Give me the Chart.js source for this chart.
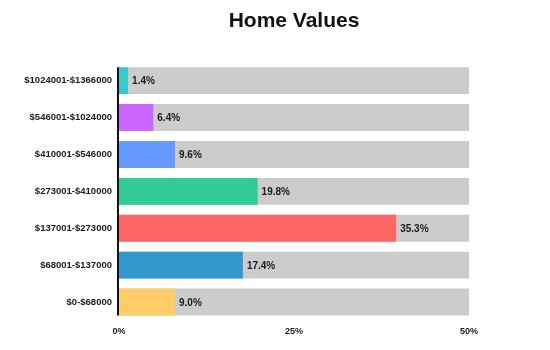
<!DOCTYPE html>
<html>
<head>
<meta charset="utf-8">
<script src="https://cdn.jsdelivr.net/npm/chart.js@4"></script>
<style>
  html, body { margin: 0; padding: 0; background: #fff; }
  #wrap { width: 550px; height: 350px; }
</style>
</head>
<body>
<div id="wrap"><canvas id="myChart"></canvas></div>
<script>
let categories = ["$1024001-$1366000", "$546001-$1024000", "$410001-$546000", "$273001-$410000",
    "$137001-$273000", "$68001-$137000", "$0-$68000"];
// bar lengths as drawn in the picture
let barValues = [1.3, 4.9, 8.0, 19.8, 39.6, 17.7, 8.0];
// the percentages printed next to the bars
let valueLabels = ["1.4%", "6.4%", "9.6%", "19.8%", "35.3%", "17.4%", "9.0%"];
let trackValues = [50, 50, 50, 50, 50, 50, 50];
let xTicks = [0, 25, 50];

let colors = ['#33CCCC', '#CC66FF', '#6699FF', '#33CC99', '#FF6666', '#3399CC', '#FFCC66'];
let font = "'Liberation Sans', Arial, Helvetica, sans-serif";

// prints the percentage just past the end of each coloured bar
const valueLabelPlugin = {
    id: 'valueLabels',
    afterDatasetsDraw(chart) {
        let ctx = chart.ctx;
        let meta = chart.getDatasetMeta(0);
        ctx.save();
        ctx.font = "bold 10px " + font;
        ctx.fillStyle = '#1a1a1a';
        ctx.textBaseline = 'middle';
        ctx.textAlign = 'left';
        meta.data.forEach((bar, i) => {
            ctx.fillText(valueLabels[i], bar.x + 4, bar.y + 1);
        });
        ctx.restore();
    }
};

// black axis line running only along the bars
const axisLinePlugin = {
    id: 'axisLine',
    afterDatasetsDraw(chart) {
        let ctx = chart.ctx;
        let meta = chart.getDatasetMeta(1);
        let first = meta.data[0], last = meta.data[meta.data.length - 1];
        let x = chart.scales.x.getPixelForValue(0);
        ctx.save();
        ctx.strokeStyle = '#111';
        ctx.lineWidth = 2;
        ctx.beginPath();
        ctx.moveTo(x - 1, first.y - first.height / 2);
        ctx.lineTo(x - 1, last.y + last.height / 2);
        ctx.stroke();
        ctx.restore();
    }
};

document.addEventListener('DOMContentLoaded', e => {
    let ctx = document.getElementById('myChart').getContext('2d');
    new Chart(ctx, {
        type: 'bar',
        data: {
            labels: categories,
            datasets: [{
                label: 'Share',
                data: barValues,
                backgroundColor: colors,
                order: 0
            }, {
                label: 'Track',
                data: trackValues,
                backgroundColor: '#CCCCCC',
                order: 1
            }]
        },
        options: {
            indexAxis: 'y',
            responsive: true,
            maintainAspectRatio: false,
            animation: false,
            layout: { padding: { left: 0, right: 81, top: 0, bottom: 0 } },
            datasets: {
                bar: { grouped: false, categoryPercentage: 1, barPercentage: 0.73 }
            },
            plugins: {
                legend: { display: false },
                tooltip: { enabled: false },
                title: {
                    display: true,
                    text: 'Home Values',
                    fullSize: false,
                    color: '#111',
                    font: { family: font, size: 21, weight: 'bold' },
                    padding: { top: 9, bottom: 28 }
                }
            },
            scales: {
                x: {
                    min: 0,
                    max: 50,
                    afterBuildTicks: axis => { axis.ticks = xTicks.map(v => ({ value: v })); },
                    afterFit: axis => { axis.height = 29.5; },
                    grid: { display: false, drawTicks: false },
                    border: { display: false },
                    ticks: {
                        padding: 6,
                        color: '#1a1a1a',
                        font: { family: font, size: 9, weight: 'bold' },
                        callback: v => v + '%'
                    }
                },
                y: {
                    afterFit: axis => { axis.width = 119; },
                    grid: { display: false, drawTicks: false },
                    border: { display: false },
                    ticks: {
                        padding: 7,
                        color: '#1a1a1a',
                        font: { family: font, size: 9.5, weight: 'bold' }
                    }
                }
            }
        },
        plugins: [valueLabelPlugin, axisLinePlugin]
    });
});
</script>
</body>
</html>
